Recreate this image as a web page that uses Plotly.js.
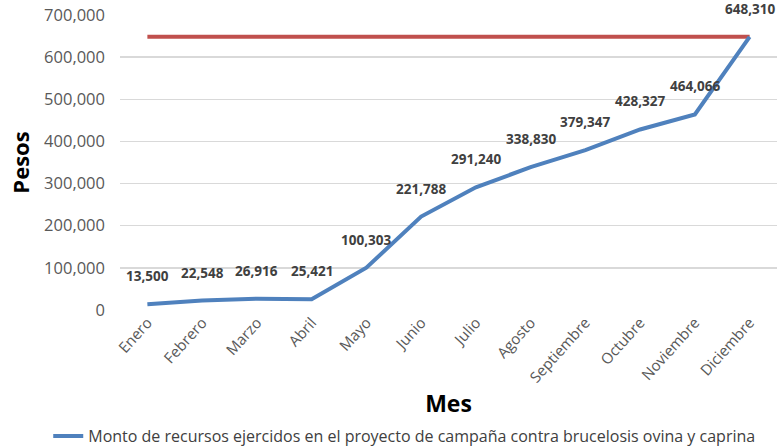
<!DOCTYPE html>
<html><head><meta charset="utf-8">
<script src="https://cdn.plot.ly/plotly-3.0.1.min.js"></script>
<style>body{margin:0;padding:0;background:#fff}</style>
</head><body>
<div id="chart" style="width:778px;height:446px"></div>
<script>
const months = ["Enero","Febrero","Marzo","Abril","Mayo","Junio","Julio","Agosto","Septiembre","Octubre","Noviembre","Diciembre"];
const ejercido = [13500,22548,26916,25421,100303,221788,291240,338830,379347,428327,464066,648310];
const meta = [648310,648310,648310,648310,648310,648310,648310,648310,648310,648310,648310,648310];
const seriesName = "Monto de recursos ejercidos en el proyecto de campaña contra brucelosis ovina y caprina";
const yTicks = [0,100000,200000,300000,400000,500000,600000,700000];

const FONT = "Open Sans, Noto Sans, sans-serif";
const fmt = v => v.toLocaleString("en-US");

const traces = [
  {x: months, y: meta, type: "scatter", mode: "lines", showlegend: false,
   line: {color: "#C0504D", width: 4}, hoverinfo: "skip"},
  {x: months, y: ejercido, type: "scatter", mode: "lines", name: seriesName,
   line: {color: "#4F81BD", width: 4}}
];

const annotations = months.map((m, i) => ({
  x: m, y: ejercido[i], xref: "x", yref: "y", text: fmt(ejercido[i]),
  showarrow: false, yshift: 28,
  font: {family: FONT, size: 13.5, color: "#404040", weight: "bold"}
}));

const layout = {
  width: 778, height: 446,
  margin: {l: 120, r: 1, t: 15, b: 136},
  paper_bgcolor: "#fff", plot_bgcolor: "#fff",
  font: {family: FONT, color: "#595959"},
  xaxis: {
    type: "category", tickangle: -48, showgrid: false, zeroline: false,
    showline: false, ticks: "", tickfont: {family: FONT, size: 15, color: "#595959"},
    range: [-0.5, 11.5],
    title: {text: "Mes", font: {family: FONT, size: 23, color: "#000", weight: "bold"}, standoff: 10}
  },
  yaxis: {
    range: [0, 700000], tickvals: yTicks, ticktext: yTicks.map(fmt),
    showgrid: true, gridcolor: "#D9D9D9", gridwidth: 1.5, zeroline: false,
    showline: false, ticks: "", ticklabelstandoff: 14,
    tickfont: {family: FONT, size: 16.5, color: "#595959"},
    title: {text: "Pesos", font: {family: FONT, size: 22, color: "#000", weight: "bold"}, standoff: 8}
  },
  showlegend: true,
  legend: {orientation: "h", xref: "container", yref: "container", x: 0.062, y: 0.022,
           xanchor: "left", yanchor: "middle",
           font: {family: FONT, size: 16, color: "#404040"}},
  annotations: annotations
};

Plotly.newPlot("chart", traces, layout, {displayModeBar: false, staticPlot: true});
</script>
</body></html>
